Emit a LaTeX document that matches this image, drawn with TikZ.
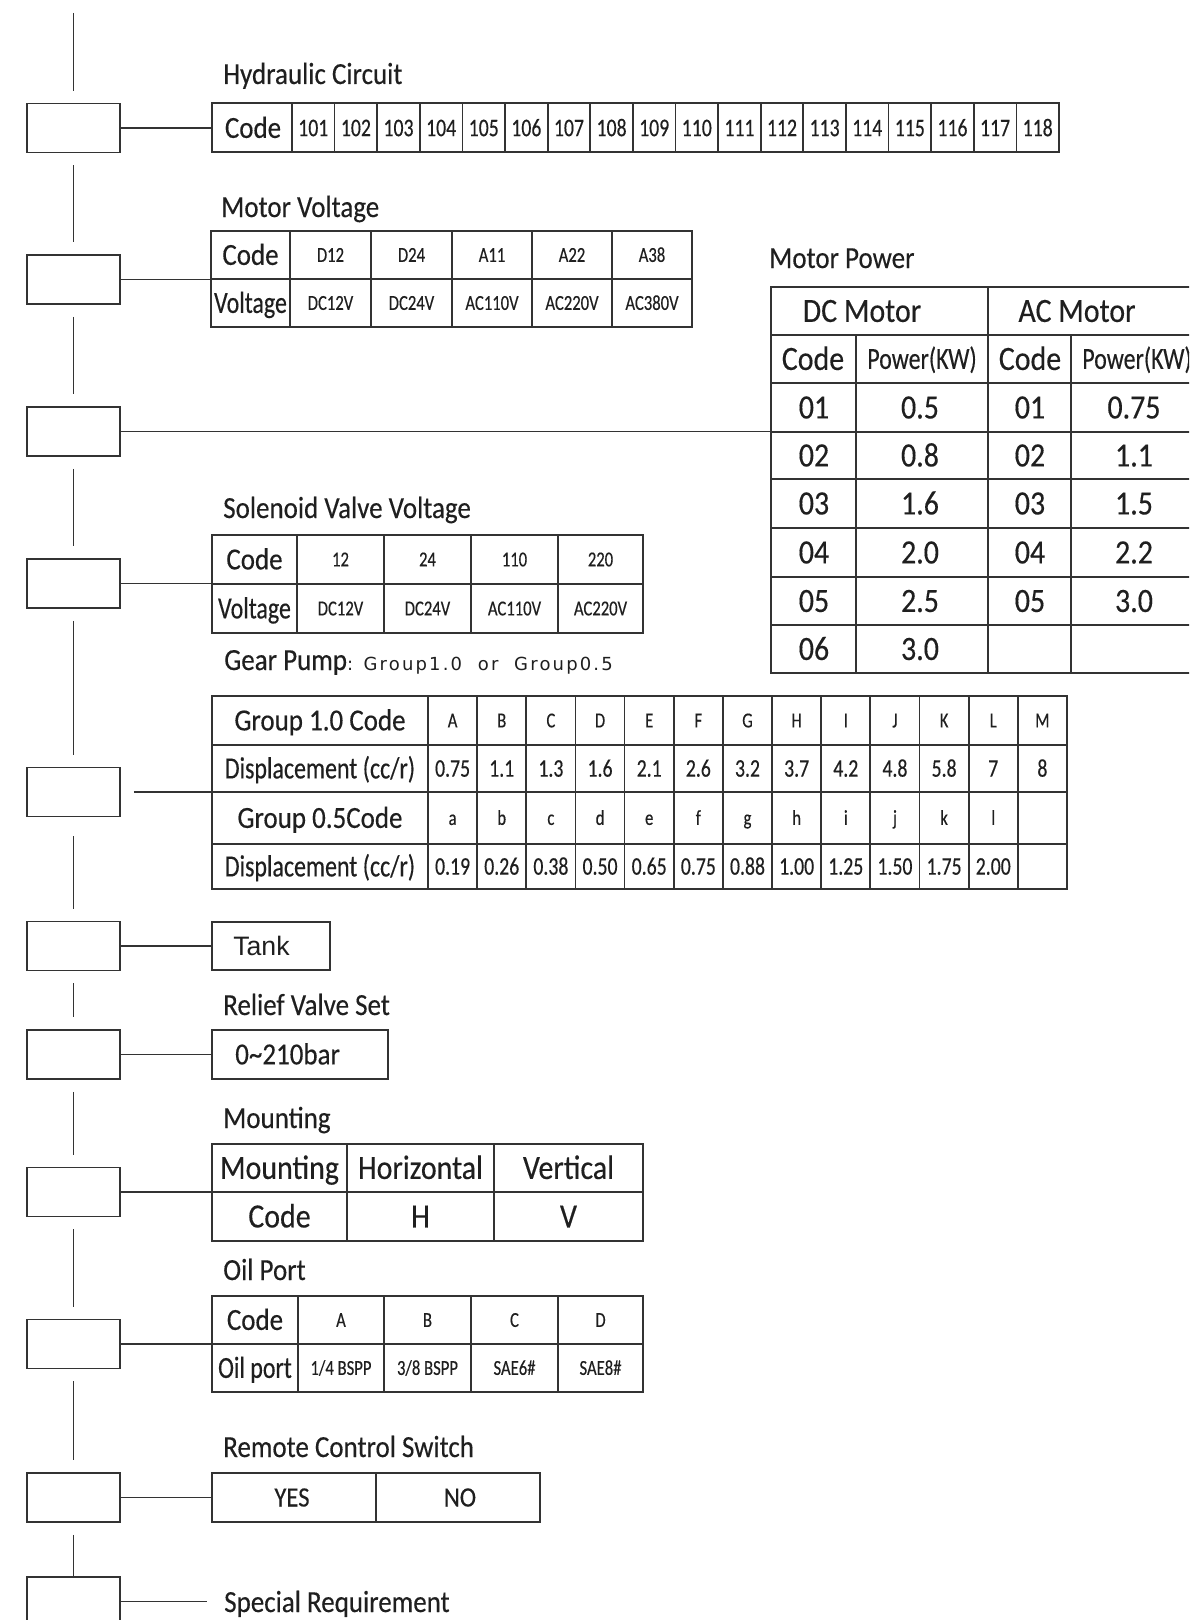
\documentclass[tikz,border=0pt]{standalone}
\usepackage{fontspec}
\setmainfont{Carlito}[FakeStretch=0.88, FakeBold=0.3]
\newfontfamily\condfont{Carlito}[FakeStretch=0.78, FakeBold=0.3]
\newfontfamily\tankfont{Liberation Sans}
\newfontfamily\gpfont{DejaVu Sans}[LetterSpace=12]

\tikzset{
  selbox/.style={draw=black!80, line width=1.4pt, minimum width=69.75pt, minimum height=36.75pt, inner sep=0pt},
  link/.style={draw=black!80, line width=1.3pt},
  vlink/.style={link, shorten <=9pt, shorten >=9pt},
  grid/.style={draw=black!80, line width=1.3pt},
  ttl/.style={anchor=base west, inner sep=0pt, text=black!88, font=\fontsize{23}{27}\selectfont},
  bigc/.style={inner sep=0pt, text height=14.8pt, text depth=0pt, text=black!88, font=\fontsize{23}{27}\selectfont},
  bigcc/.style={bigc, font=\condfont\fontsize{23}{27}\selectfont},
  pwc/.style={inner sep=0pt, text height=16.4pt, text depth=0pt, text=black!88, font=\fontsize{25.5}{29}\selectfont},
  midc/.style={inner sep=0pt, text height=13.5pt, text depth=0pt, text=black!88, font=\fontsize{21}{25}\selectfont},
  smc/.style={inner sep=0pt, text height=10.3pt, text depth=0pt, text=black!88, font=\condfont\fontsize{16}{19}\selectfont},
  numc/.style={inner sep=0pt, text height=12.2pt, text depth=0pt, text=black!88, font=\condfont\fontsize{19}{22}\selectfont},
}

\begin{document}
\begin{tikzpicture}[x=0.75pt,y=0.75pt,yscale=-1,xscale=1]
\fill[white] (0,0) rectangle (1189,1620);
\useasboundingbox (0,0) rectangle (1189,1620);
\clip (0,0) rectangle (1189,1620);

%Selection boxes
\coordinate (top) at (73.5,13);
\node[selbox] (s1) at (73.5,128) {};
\node[selbox] (s2) at (73.5,279.5) {};
\node[selbox] (s3) at (73.5,431.5) {};
\node[selbox] (s4) at (73.5,583.5) {};
\node[selbox] (s5) at (73.5,792) {};
\node[selbox] (s6) at (73.5,946) {};
\node[selbox] (s7) at (73.5,1054.5) {};
\node[selbox] (s8) at (73.5,1192) {};
\node[selbox] (s9) at (73.5,1344) {};
\node[selbox] (s10) at (73.5,1497.5) {};
\node[selbox] (s11) at (73.5,1601.5) {};

%Vertical links
\draw[link, shorten >=9pt] (top) -- (s1);
\draw[vlink] (s1) -- (s2);
\draw[vlink] (s2) -- (s3);
\draw[vlink] (s3) -- (s4);
\draw[vlink] (s4) -- (s5);
\draw[vlink, shorten <=14pt] (s5) -- (s6);
\draw[vlink] (s6) -- (s7);
\draw[vlink] (s7) -- (s8);
\draw[vlink] (s8) -- (s9);
\draw[vlink] (s9) -- (s10);
\draw[link, shorten <=9pt] (s10) -- (s11);

%Hydraulic Circuit
\node[ttl] (hct) at (223,84) {Hydraulic Circuit};
\draw[grid] (212,103) rectangle (1059,152);
\node[bigc] (hccode) at (253,128) {Code};
\foreach \i in {0,...,17}{
  \pgfmathsetmacro{\xa}{292+42.61*\i}
  \pgfmathtruncatemacro{\num}{101+\i}
  \draw[grid] (\xa,103) -- (\xa,152);
  \node[numc] (hc\num) at (\xa+21.3,128) {\num};
}
\coordinate (hcin) at (212,128);
\draw[link] (s1) -- (hcin);

%Motor Voltage
\node[ttl] (mvt) at (221,217) {Motor Voltage};
\draw[grid] (211,231) rectangle (692,327);
\draw[grid] (211,279) -- (692,279);
\foreach \xa in {290,371,452,532,612} \draw[grid] (\xa,231) -- (\xa,327);
\node[bigc] (mvcode) at (250.5,255) {Code};
\node[bigcc] (mvvolt) at (250.5,303) {Voltage};
\foreach \xa/\cod/\vlt [count=\k] in {330.5/D12/DC12V, 411.5/D24/DC24V, 492/A11/AC110V, 572/A22/AC220V, 652/A38/AC380V}{
  \node[smc] (mvc\k) at (\xa,255) {\cod};
  \node[smc] (mvv\k) at (\xa,303) {\vlt};
}
\coordinate (mvin) at (211,279.5);
\draw[link] (s2) -- (mvin);

%Motor Power
\node[ttl] (mpt) at (769,268) {Motor Power};
\draw[grid] (771,287) rectangle (1203,673);
\foreach \ya in {335,383,432,479,528,577,625} \draw[grid] (771,\ya) -- (1203,\ya);
\draw[grid] (988,287) -- (988,673);
\draw[grid] (856,335) -- (856,673);
\draw[grid] (1071,335) -- (1071,673);
\node[pwc] (dcm) at (862,311) {DC Motor};
\node[pwc] (acm) at (1077,311) {AC Motor};
\node[pwc] (dccode) at (813,359) {Code};
\node[bigcc] (dcpow) at (922,359) {Power(KW)};
\node[pwc] (accode) at (1030,359) {Code};
\node[bigcc] (acpow) at (1137,359) {Power(KW)};
\foreach \ya/\dcode/\dpow/\acode/\apow [count=\k] in {407.5/01/0.5/01/0.75, 455.5/02/0.8/02/1.1, 503.5/03/1.6/03/1.5, 552.5/04/2.0/04/2.2, 601/05/2.5/05/3.0, 649/06/3.0/{}/{}}{
  \node[pwc] (mpdc\k) at (814,\ya) {\dcode};
  \node[pwc] (mpdp\k) at (920,\ya) {\dpow};
  \node[pwc] (mpac\k) at (1030,\ya) {\acode};
  \node[pwc] (mpap\k) at (1134,\ya) {\apow};
}
\coordinate (mpin) at (771,431.5);
\draw[link] (s3) -- (mpin);

%Solenoid Valve Voltage
\node[ttl] (svt) at (223,518) {Solenoid Valve Voltage};
\draw[grid] (212,535) rectangle (643,633);
\draw[grid] (212,584) -- (643,584);
\foreach \xa in {297,384,471,558} \draw[grid] (\xa,535) -- (\xa,633);
\node[bigc] (svcode) at (254.5,559.5) {Code};
\node[bigcc] (svvolt) at (254.5,608.5) {Voltage};
\foreach \xa/\cod/\vlt [count=\k] in {340.5/12/DC12V, 427.5/24/DC24V, 514.5/110/AC110V, 600.5/220/AC220V}{
  \node[smc] (svc\k) at (\xa,559.5) {\cod};
  \node[smc] (svv\k) at (\xa,608.5) {\vlt};
}
\coordinate (svin) at (212,583.5);
\draw[link] (s4) -- (svin);

%Gear Pump
\node[ttl] (gpt) at (224,670) {Gear Pump{\gpfont\fontsize{13.5}{16}\selectfont: Group1.0\ \ or\ \ Group0.5}};
\draw[grid] (212,696) rectangle (1067,889);
\foreach \ya in {745,792,844} \draw[grid] (212,\ya) -- (1067,\ya);
\foreach \k in {0,...,12} \draw[grid] (428+49.15*\k,696) -- (428+49.15*\k,889);
\node[bigc] (g1code) at (320,720.5) {Group 1.0 Code};
\node[bigcc] (g1disp) at (320,768.5) {Displacement (cc/r)};
\node[bigc] (g5code) at (320,818) {Group 0.5Code};
\node[bigcc] (g5disp) at (320,866.5) {Displacement (cc/r)};
\foreach \gbig/\dbig/\gsma/\dsma [count=\k from 0] in {A/0.75/a/0.19, B/1.1/b/0.26, C/1.3/c/0.38, D/1.6/d/0.50, E/2.1/e/0.65, F/2.6/f/0.75, G/3.2/g/0.88, H/3.7/h/1.00, I/4.2/i/1.25, J/4.8/j/1.50, K/5.8/k/1.75, L/7/l/2.00, M/8/{}/{}}{
  \node[smc] (gpa\k) at (452.6+49.15*\k,720.5) {\gbig};
  \node[numc] (gpb\k) at (452.6+49.15*\k,768.5) {\dbig};
  \node[smc] (gpc\k) at (452.6+49.15*\k,818) {\gsma};
  \node[numc] (gpd\k) at (452.6+49.15*\k,866.5) {\dsma};
}
\coordinate (gpin) at (212,792);
\draw[link, shorten <=9.75pt] (s5) -- (gpin);

%Tank
\draw[grid] (212,922) rectangle (330,970);
\node[anchor=west, inner sep=0pt, text=black!88, font=\tankfont\fontsize{20}{24}\selectfont] (tank) at (233,946) {Tank};
\coordinate (tkin) at (212,946);
\draw[link] (s6) -- (tkin);

%Relief Valve Set
\node[ttl] (rvt) at (223,1015) {Relief Valve Set};
\draw[grid] (212,1030) rectangle (388,1079);
\node[bigc, anchor=west] (rvset) at (235,1054.5) {0\textasciitilde210bar};
\coordinate (rvin) at (212,1054.5);
\draw[link] (s7) -- (rvin);

%Mounting
\node[ttl] (mtt) at (223,1128) {Mounting};
\draw[grid] (212,1144) rectangle (643,1241);
\draw[grid] (212,1192) -- (643,1192);
\foreach \xa in {347,494} \draw[grid] (\xa,1144) -- (\xa,1241);
\node[pwc] (mtm) at (279.5,1168) {Mounting};
\node[pwc] (mth) at (420.5,1168) {Horizontal};
\node[pwc] (mtv) at (568.5,1168) {Vertical};
\node[pwc] (mtcode) at (279.5,1216.5) {Code};
\node[pwc] (mtH) at (420.5,1216.5) {H};
\node[pwc] (mtV) at (568.5,1216.5) {V};
\coordinate (mtin) at (212,1192);
\draw[link] (s8) -- (mtin);

%Oil Port
\node[ttl] (opt) at (223,1280) {Oil Port};
\draw[grid] (212,1296) rectangle (643,1392);
\draw[grid] (212,1344) -- (643,1344);
\foreach \xa in {298,384,471,558} \draw[grid] (\xa,1296) -- (\xa,1392);
\node[bigc] (opcode) at (255,1320) {Code};
\node[bigcc] (opport) at (255,1368) {Oil port};
\foreach \xa/\cod/\prt [count=\k] in {341/A/1\slash 4 BSPP, 427.5/B/3\slash 8 BSPP, 514.5/C/SAE6\#, 600.5/D/SAE8\#}{
  \node[smc] (opc\k) at (\xa,1320) {\cod};
  \node[smc] (opv\k) at (\xa,1368) {\prt};
}
\coordinate (opin) at (212,1344);
\draw[link] (s9) -- (opin);

%Remote Control Switch
\node[ttl] (rct) at (223,1457) {Remote Control Switch};
\draw[grid] (212,1473) rectangle (540,1522);
\draw[grid] (376,1473) -- (376,1522);
\node[midc] (yes) at (292,1497.5) {YES};
\node[midc] (no) at (460,1497.5) {NO};
\coordinate (rcin) at (212,1497.5);
\draw[link] (s10) -- (rcin);

%Special Requirement
\node[ttl] (spr) at (224,1612) {Special Requirement};
\coordinate (spin) at (207,1601.5);
\draw[link] (s11) -- (spin);

\end{tikzpicture}
\end{document}
